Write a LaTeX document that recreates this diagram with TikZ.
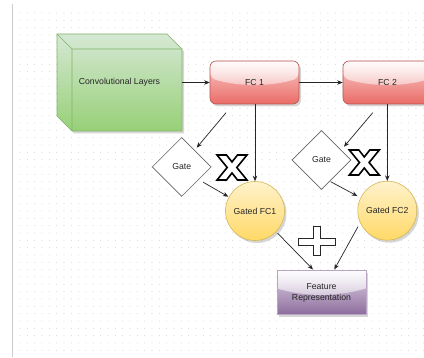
\documentclass[tikz,border=0pt]{standalone}
\usepackage{fontspec}
\setmainfont{Liberation Sans}
\usetikzlibrary{shapes.geometric,arrows.meta,fadings,calc}
\definecolor{cubetop}{HTML}{D5E8D4}
\definecolor{cubebot}{HTML}{97D077}
\definecolor{cubeline}{HTML}{82B366}
\definecolor{fctop}{HTML}{F8CECC}
\definecolor{fcbot}{HTML}{EA6B66}
\definecolor{fcline}{HTML}{B85450}
\definecolor{circtop}{HTML}{FFF2CC}
\definecolor{circbot}{HTML}{FFD966}
\definecolor{circline}{HTML}{D6B656}
\definecolor{frtop}{HTML}{E1D5E7}
\definecolor{frbot}{HTML}{8C6C9C}
\definecolor{frline}{HTML}{B9A6C4}
\definecolor{gridc}{HTML}{D2D2D2}
\tikzfading[name=glassfade, top color=transparent!10, bottom color=transparent!90]
\begin{document}
\begin{tikzpicture}[x=1pt,y=-1pt,
  every node/.style={font=\fontsize{8.7}{11.3}\selectfont, text=black!85},
  shadowed/.style={preaction={fill=black, fill opacity=0.16, transform canvas={xshift=2pt,yshift=-2.5pt}}},
  glass/.style={path picture={
    \fill[white, path fading=glassfade]
      let \p1=(path picture bounding box.north west), \p2=(path picture bounding box.south east),
          \n1={\y1-\y2}, \n2={\x2-\x1} in
      (\x1,\y1) -- (\x1,{\y1-0.4*\n1})
      .. controls ({\x1+\n2/3},{\y1-0.6*\n1}) and ({\x2-\n2/3},{\y1-0.6*\n1}) .. (\x2,{\y1-0.4*\n1})
      -- (\x2,\y1) -- cycle;}},
  fcbox/.style={rectangle, rounded corners=6pt, minimum width=89pt, minimum height=43pt, inner sep=0pt,
    draw=fcline, line width=0.6pt, top color=fctop, bottom color=fcbot, shadowed, glass},
  frbox/.style={rectangle, minimum width=89pt, minimum height=44pt, inner sep=0pt, align=center,
    draw=frline, line width=0.6pt, top color=frtop, bottom color=frbot, shadowed, glass},
  gatebox/.style={diamond, minimum width=59pt, minimum height=59pt, inner sep=0pt,
    draw=black!60, line width=0.6pt, fill=white},
  gatedc/.style={circle, minimum size=59pt, inner sep=0pt, draw=circline, line width=0.6pt,
    top color=circtop, bottom color=circbot, shadowed},
  conn/.style={draw=black!85, line width=0.7pt, -{Stealth[length=5.5pt,width=4.5pt]}},
  signx/.style={draw=black, line width=1.6pt, fill=white, line join=miter},
  signplus/.style={draw=black!85, line width=0.9pt, fill=white, line join=miter}
]
\clip (0,0) rectangle (424,358);
\fill[white] (0,0) rectangle (424,358);
% grid
\foreach \i in {0,...,55}{
  \foreach \j in {0,...,46}{
    \fill[gridc] ({20+7.333*\i},{13+7.333*\j}) circle (0.5);
  }
}
\draw[black!20, line width=1pt] (12.7,4) -- (12.7,357);

% cube
\path[shadowed, draw=cubeline, line width=0.6pt, top color=cubetop, bottom color=cubebot]
  (57,34) -- (167,34) -- (182,49) -- (182,131) -- (72,131) -- (57,116) -- cycle;
\draw[cubeline, line width=0.6pt] (57,34) -- (72,49) -- (182,49) (72,49) -- (72,131);
\node[minimum width=125pt, minimum height=97pt, inner sep=0pt] (conv) at (119.5,82.5) {Convolutional Layers};

% FC boxes
\node[fcbox] (fc1) at (254.5,82.5) {FC 1};
\node[fcbox] (fc2) at (387.5,82.5) {FC 2};

% gates
\node[gatebox] (gate1) at (181.7,167) {Gate};
\node[gatebox] (gate2) at (321.5,160) {Gate};

% gated circles
\node[gatedc] (g1) at (255,211) {Gated FC1};
\node[gatedc] (g2) at (387.3,210.7) {Gated FC2};

% feature representation
\node[frbox] (fr) at (321.5,292.8) {Feature\\Representation};

% signs
\begin{scope}[shift={(217,155)}]
  \path[signx] (0,0) -- (9.5,0) -- (15,7) -- (20.5,0) -- (30,0) -- (19.8,12.5) -- (30,25)
    -- (20.5,25) -- (15,18) -- (9.5,25) -- (0,25) -- (10.2,12.5) -- cycle;
\end{scope}
\begin{scope}[shift={(349.3,150)}]
  \path[signx] (0,0) -- (9.5,0) -- (15,7) -- (20.5,0) -- (30,0) -- (19.8,12.5) -- (30,25)
    -- (20.5,25) -- (15,18) -- (9.5,25) -- (0,25) -- (10.2,12.5) -- cycle;
\end{scope}
\path[signplus] (313.3,226.7) -- (320,226.7) -- (320,238.3) -- (335.7,238.3) -- (335.7,245)
  -- (320,245) -- (320,255) -- (313.3,255) -- (313.3,245) -- (298.3,245) -- (298.3,238.3)
  -- (313.3,238.3) -- cycle;

% free connector ends
\coordinate (a1s) at (226,112.7);   \coordinate (a1e) at (196.7,147.7);
\coordinate (b1s) at (203.3,182.3); \coordinate (b1e) at (228.3,196.7);
\coordinate (a2s) at (372.7,112.7); \coordinate (a2e) at (344,146.7);
\coordinate (b2s) at (330.7,181.7); \coordinate (b2e) at (357.3,196);
\coordinate (c1s) at (277.7,233.3); \coordinate (c1e) at (313,269.5);
\coordinate (c2s) at (358,226.7);   \coordinate (c2e) at (334.3,269.5);

% connectors
\draw[conn] (conv.east) -- (fc1.west);
\draw[conn] (fc1.east) -- (fc2.west);
\draw[conn] (a1s) -- (a1e);
\draw[conn] (b1s) -- (b1e);
\draw[conn] (g1.north |- fc1.south) -- (g1.north);
\draw[conn] (a2s) -- (a2e);
\draw[conn] (b2s) -- (b2e);
\draw[conn] (g2.north |- fc2.south) -- (g2.north);
\draw[conn] (c1s) -- (c1e);
\draw[conn] (c2s) -- (c2e);
\end{tikzpicture}
\end{document}
